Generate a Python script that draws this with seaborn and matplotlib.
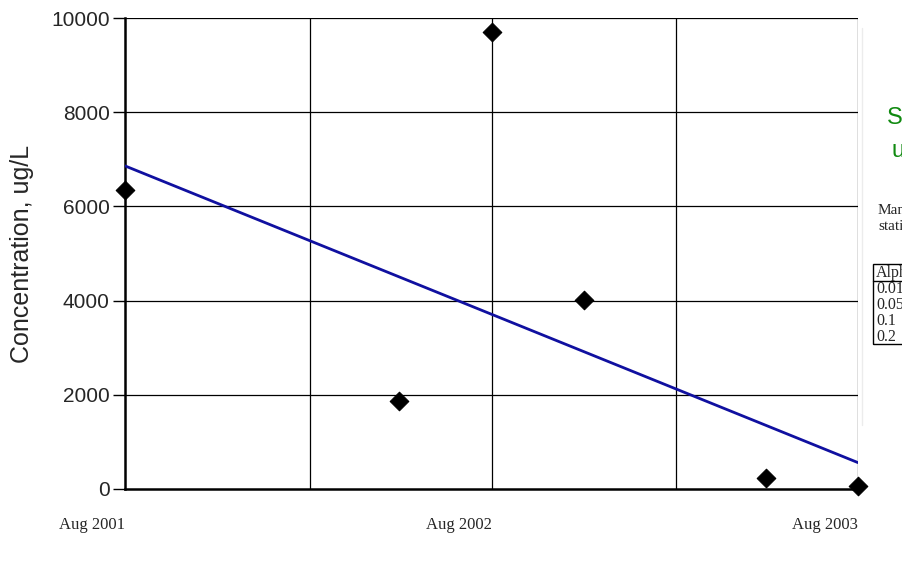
import matplotlib
matplotlib.use("Agg")
import matplotlib.pyplot as plt
import pandas as pd
import seaborn as sns

# sample results
sample_dates = ["2001-08-01", "2002-05-01", "2002-08-01", "2002-11-01", "2003-05-01", "2003-08-01"]
concentration = [6340, 1860, 9700, 4010, 240, 70]

# trend line end points
trend_dates = ["2001-08-01", "2003-08-01"]
trend_conc = [6860, 560]

grid_dates = ["2002-02-01", "2002-08-01", "2003-02-01", "2003-08-01"]
label_dates = ["2001-08-01", "2002-08-01", "2003-08-01"]
tick_labels = ["Aug 2001", "Aug 2002", "Aug 2003"]
y_ticks = [0, 2000, 4000, 6000, 8000, 10000]

alpha_rows = ["Alpha", "0.01", "0.05", "0.1", "0.2"]

df = pd.DataFrame({"date": pd.to_datetime(sample_dates), "conc": concentration})
trend = pd.DataFrame({"date": pd.to_datetime(trend_dates), "conc": trend_conc})

sns.set_style("white")
plt.rcParams["font.family"] = ["Liberation Sans", "DejaVu Sans"]

fig = plt.figure(figsize=(9.02, 5.66), dpi=100)
ax = fig.add_axes([125 / 902, 1 - 489 / 566, (858 - 125) / 902, (489 - 18) / 566])

sns.lineplot(data=trend, x="date", y="conc", ax=ax, color="#1010a0", lw=2, zorder=3)
sns.scatterplot(data=df, x="date", y="conc", ax=ax, marker="D", s=90, color="black",
                edgecolor="black", zorder=4, clip_on=False)

ax.set_xlim(pd.Timestamp("2001-08-01"), pd.Timestamp("2003-08-01"))
ax.set_ylim(0, 10000)

# grid lines
for d in pd.to_datetime(grid_dates):
    ax.axvline(d, color="black", lw=0.9, zorder=1)
for yv in y_ticks[1:]:
    ax.axhline(yv, color="black", lw=0.9, zorder=1)

ax.set_yticks(y_ticks)
ax.set_yticklabels([str(v) for v in y_ticks], fontsize=15)
ax.tick_params(axis="y", length=9, width=1, color="black", direction="out", pad=2, left=True)

ax.set_xticks(pd.to_datetime(label_dates))
ax.set_xticklabels(tick_labels, fontsize=12, family="Liberation Serif", ha="right")
ax.tick_params(axis="x", length=0, pad=20)

ax.set_xlabel("")
ax.set_ylabel("Concentration, ug/L", fontsize=18, labelpad=12)

for side in ["top", "right"]:
    ax.spines[side].set_visible(False)
for side in ["left", "bottom"]:
    ax.spines[side].set_color("black")
    ax.spines[side].set_linewidth(1.8)

# side panel, cut off by the figure edge as in the original
fig.add_artist(plt.Line2D([862 / 902, 862 / 902], [0.25, 0.95], color="#ececec", lw=1))
fig.text(887 / 902, 1 - 118 / 566, "Slope", color="#108a10", fontsize=17, va="center")
fig.text(892 / 902, 1 - 151 / 566, "ug/L per year", color="#108a10", fontsize=17, va="center")
fig.text(878 / 902, 1 - 210 / 566, "Mann-Kendall", family="Liberation Serif", fontsize=11,
         va="center")
fig.text(878 / 902, 1 - 226 / 566, "statistic", family="Liberation Serif", fontsize=11,
         va="center")
for i, row in enumerate(alpha_rows):
    fig.text(876 / 902, 1 - (273 + 16 * i) / 566, row, family="Liberation Serif", fontsize=11.5,
             va="center")
fig.add_artist(plt.Rectangle((873 / 902, 1 - 344 / 566), 0.1, 80 / 566, fill=False,
                             edgecolor="black", lw=1))
fig.add_artist(plt.Line2D([873 / 902, 1], [1 - 281 / 566, 1 - 281 / 566], color="black", lw=1))

fig.savefig("out.png", dpi=100)
